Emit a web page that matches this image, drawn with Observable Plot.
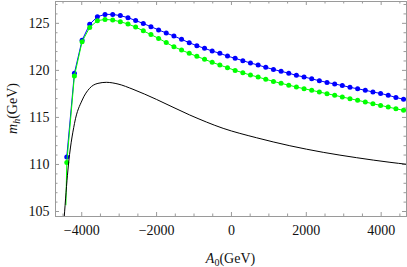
<!DOCTYPE html>
<html><head><meta charset="utf-8">
<script src="https://cdn.jsdelivr.net/npm/d3@7"></script>
<script src="https://cdn.jsdelivr.net/npm/@observablehq/plot@0.6"></script>
<style>html,body{margin:0;padding:0;background:#fff} svg{display:block}</style>
</head><body><div id="chart"></div>
<script>
// A0 (GeV) sample positions of the marked series
const xs = [-4400, -4196, -3991, -3787, -3582, -3378, -3173, -2969, -2764, -2560,
  -2355, -2151, -1946, -1742, -1537, -1333, -1128, -924, -719, -515,
  -310, -106, 99, 304, 508, 713, 917, 1122, 1326, 1531,
  1735, 1940, 2144, 2349, 2553, 2758, 2962, 3167, 3371, 3576,
  3780, 3985, 4189, 4394, 4598];
// blue series m_h (GeV)
const blueY = [110.8, 119.7, 123.2, 124.9, 125.7, 125.95, 125.95, 125.82, 125.6, 125.3,
  124.98, 124.64, 124.3, 123.97, 123.65, 123.3, 122.94, 122.62, 122.34, 122.06,
  121.81, 121.52, 121.28, 121.03, 120.78, 120.57, 120.32, 120.1, 119.9, 119.7,
  119.47, 119.3, 119.1, 118.9, 118.72, 118.55, 118.39, 118.2, 118.04, 117.89,
  117.7, 117.55, 117.35, 117.13, 116.92];
// green series m_h (GeV)
const greenY = [110.2, 119.4, 123.05, 124.57, 125.28, 125.42, 125.35, 125.17, 124.93, 124.6,
  124.2, 123.8, 123.4, 122.95, 122.5, 122.16, 121.81, 121.49, 121.17, 120.86,
  120.57, 120.28, 120.0, 119.75, 119.5, 119.29, 119.05, 118.83, 118.62, 118.43,
  118.23, 118.05, 117.88, 117.7, 117.52, 117.35, 117.17, 116.99, 116.82, 116.64,
  116.45, 116.28, 116.1, 115.92, 115.75];
// green line starts slightly below its first marker
const greenStartX = -4423;
const greenStartY = 105.7;
// black curve
const blackX = [-4470, -4369, -4193, -3987, -3791, -3567, -3344, -3031, -2630, -2007,
  -1116, -222, 669, 1560, 2453, 3345, 4235, 4682];
const blackY = [104.3, 109.41, 114.37, 116.85, 118.09, 118.62, 118.73, 118.55, 117.99, 116.92,
  115.26, 113.84, 112.84, 111.99, 111.29, 110.72, 110.23, 110.02];
// ticks
const xTicks = [-4000, -2000, 0, 2000, 4000];
const xMinor = [-4500, -3500, -3000, -2500, -1500, -1000, -500, 500, 1000, 1500, 2500, 3000, 3500, 4500];
const yTicks = [105, 110, 115, 120, 125];
const yMinor = [106, 107, 108, 109, 111, 112, 113, 114, 116, 117, 118, 119, 121, 122, 123, 124, 126, 127];

const blue = xs.map((x, i) => ({x, y: blueY[i]}));
const green = xs.map((x, i) => ({x, y: greenY[i]}));
const greenLine = [{x: greenStartX, y: greenStartY}, ...green];
const black = blackX.map((x, i) => ({x, y: blackY[i]}));

const W = 407, H = 267, mL = 55, mR = 1, mT = 1, mB = 51;
const pW = W - mL - mR, pH = H - mT - mB;
const frameColor = "#9a9a9a";
const fmt = d => d < 0 ? "\u2212" + Math.abs(d) : String(d);
const MAJ = 4, MIN = 2.5;

const chart = Plot.plot({
  width: W, height: H,
  marginLeft: mL, marginRight: mR, marginTop: mT, marginBottom: mB,
  style: {fontFamily: "'Liberation Serif', 'DejaVu Serif', serif", fontSize: "14px", color: "#111", background: "#fff"},
  x: {domain: [-4701, 4677], label: null},
  y: {domain: [104.47, 127.32], label: null},
  marks: [
    Plot.axisX({ticks: xTicks, tickSize: 0, tickPadding: 9, tickFormat: fmt, label: null, fontSize: 14}),
    Plot.axisY({ticks: yTicks, tickSize: 0, tickPadding: 6, tickFormat: fmt, label: null, fontSize: 14}),
    // inward ticks on all four sides
    Plot.tickX(xTicks, {x: d => d, stroke: frameColor, insetTop: pH - MAJ}),
    Plot.tickX(xMinor, {x: d => d, stroke: frameColor, insetTop: pH - MIN}),
    Plot.tickX(xTicks, {x: d => d, stroke: frameColor, insetBottom: pH - MAJ}),
    Plot.tickX(xMinor, {x: d => d, stroke: frameColor, insetBottom: pH - MIN}),
    Plot.tickY(yTicks, {y: d => d, stroke: frameColor, insetRight: pW - MAJ}),
    Plot.tickY(yMinor, {y: d => d, stroke: frameColor, insetRight: pW - MIN}),
    Plot.tickY(yTicks, {y: d => d, stroke: frameColor, insetLeft: pW - MAJ}),
    Plot.tickY(yMinor, {y: d => d, stroke: frameColor, insetLeft: pW - MIN}),
    Plot.line(blue, {x: "x", y: "y", stroke: "#0000ff", strokeWidth: 1}),
    Plot.dot(blue, {x: "x", y: "y", r: 2.5, fill: "#0000ff", stroke: "none"}),
    Plot.line(greenLine, {x: "x", y: "y", stroke: "#00ff00", strokeWidth: 1}),
    Plot.dot(green, {x: "x", y: "y", r: 2.5, fill: "#00ff00", stroke: "none"}),
    Plot.line(black, {x: "x", y: "y", stroke: "#000", strokeWidth: 1, curve: "monotone-x", clip: true}),
    Plot.frame({stroke: frameColor})
  ]
});

const svg = d3.select(chart);
// x-axis label: A_0(GeV)
const xl = svg.append("text")
  .attr("x", mL + pW / 2).attr("y", 263)
  .attr("text-anchor", "middle")
  .attr("font-family", "'Liberation Serif', serif").attr("font-size", 14).attr("fill", "#111");
xl.append("tspan").attr("font-style", "italic").text("A");
xl.append("tspan").attr("font-size", 10).attr("dy", 3).text("0");
xl.append("tspan").attr("dy", -3).text("(GeV)");
// y-axis label: m_h(GeV)
const yl = svg.append("text")
  .attr("transform", `translate(17,${mT + pH / 2}) rotate(-90)`)
  .attr("text-anchor", "middle")
  .attr("font-family", "'Liberation Serif', serif").attr("font-size", 14).attr("fill", "#111");
yl.append("tspan").attr("font-style", "italic").text("m");
yl.append("tspan").attr("font-style", "italic").attr("font-size", 10).attr("dy", 3).text("h");
yl.append("tspan").attr("dy", -3).text("(GeV)");

document.getElementById("chart").appendChild(chart);
</script>
</body></html>
